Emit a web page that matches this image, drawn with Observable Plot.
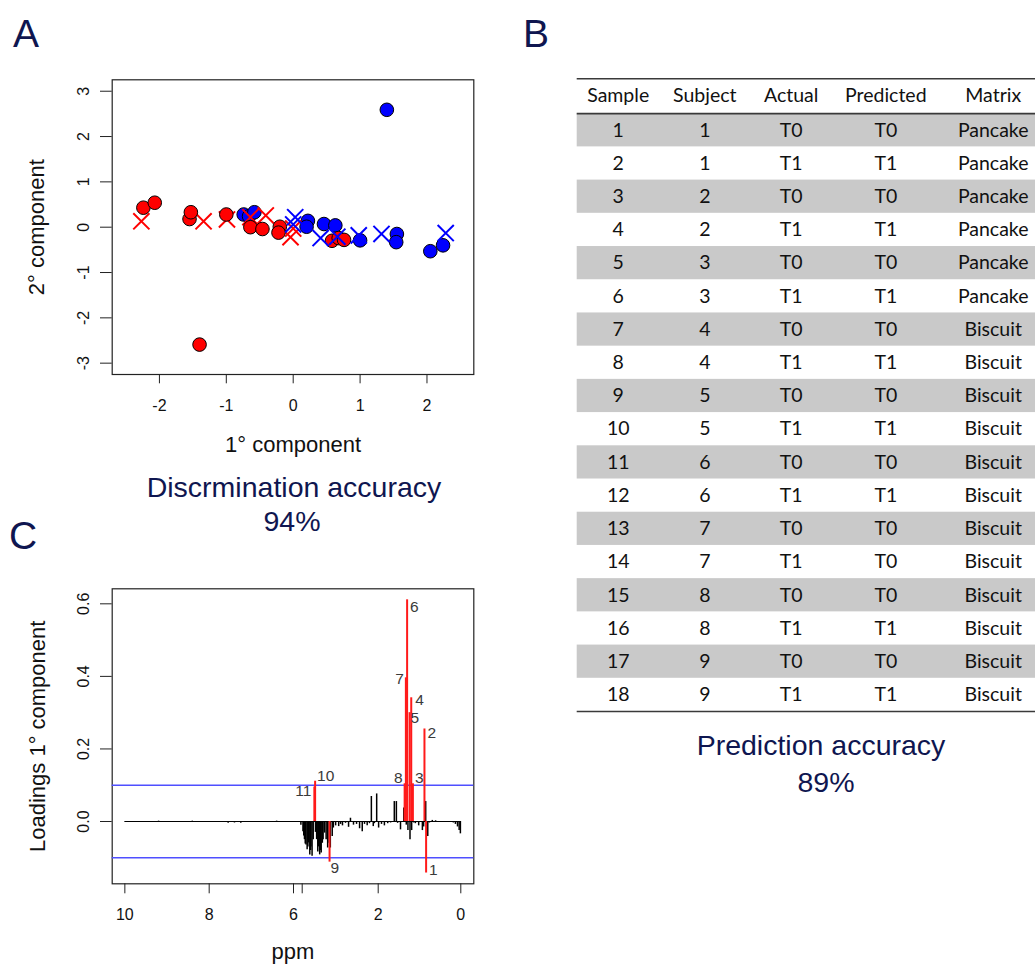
<!DOCTYPE html>
<html><head><meta charset="utf-8">
<script src="https://cdn.jsdelivr.net/npm/d3@7"></script>
<script src="https://cdn.jsdelivr.net/npm/@observablehq/plot@0.6"></script>
<style>
html,body{margin:0;padding:0;background:#fff;}
#root{position:relative;width:1035px;height:965px;overflow:hidden;background:#fff;}
#root > svg{position:absolute;}
</style></head><body><div id="root"></div>
<script>
// ---------- Panel A data (score plot) ----------
const redCircleX = [-2.24, -2.07, -1.55, -1.53, -1.00, -1.40, -0.64, -0.46, -0.20, -0.22, 0.58, 0.68, 0.76];
const redCircleY = [0.43, 0.54, 0.18, 0.33, 0.28, -2.59, 0.00, -0.04, 0.01, -0.12, -0.30, -0.24, -0.28];
const blueCircleX = [1.40, -0.74, -0.66, -0.58, 0.22, 0.20, 0.46, 0.63, 1.00, 1.55, 1.54, 2.05, 2.24];
const blueCircleY = [2.59, 0.28, 0.24, 0.33, 0.14, 0.01, 0.07, 0.04, -0.29, -0.15, -0.33, -0.53, -0.40];
const redCrossX = [-2.27, -1.34, -0.99, -0.64, -0.41, -0.04, 0.00];
const redCrossY = [0.13, 0.13, 0.17, 0.22, 0.26, -0.22, -0.03];
const blueCrossX = [0.03, 0.00, 0.41, 0.66, 0.98, 1.32, 2.28];
const blueCrossY = [0.22, 0.06, -0.24, -0.21, -0.18, -0.15, -0.13];
const ticksAX = [-2, -1, 0, 1, 2];
const ticksAY = [-3, -2, -1, 0, 1, 2, 3];

// ---------- Panel B data (table) ----------
const columns = ["Sample", "Subject", "Actual", "Predicted", "Matrix"];
const sample = [1,2,3,4,5,6,7,8,9,10,11,12,13,14,15,16,17,18];
const subject = [1,1,2,2,3,3,4,4,5,5,6,6,7,7,8,8,9,9];
const actual = ["T0","T1","T0","T1","T0","T1","T0","T1","T0","T1","T0","T1","T0","T1","T0","T1","T0","T1"];
const predicted = ["T0","T1","T0","T1","T0","T1","T0","T1","T0","T1","T0","T1","T0","T0","T0","T1","T0","T1"];
const matrix = ["Pancake","Pancake","Pancake","Pancake","Pancake","Pancake","Biscuit","Biscuit","Biscuit","Biscuit","Biscuit","Biscuit","Biscuit","Biscuit","Biscuit","Biscuit","Biscuit","Biscuit"];

// ---------- Panel C data (loadings) ----------
const specPPM = [10.0, 9.6, 9.2, 8.8, 8.4, 8.0, 7.7, 7.55, 7.4, 7.25, 7.1, 6.8, 6.4, 6.0, 5.0, 4.3,
  3.98, 3.96, 3.94, 3.92, 3.90, 3.87, 3.85, 3.83, 3.80, 3.78, 3.77, 3.74, 3.71, 3.65, 3.62, 3.59, 3.57, 3.56, 3.54, 3.52, 3.50, 3.47, 3.45, 3.41, 3.37, 3.33, 3.29, 3.26, 3.21,
  3.18, 3.12, 3.04, 2.99, 2.94, 2.86, 2.78, 2.73, 2.65, 2.57, 2.49, 2.42, 2.36, 2.29, 2.23, 2.18, 2.13, 2.10, 2.04,
  1.99, 1.92, 1.85, 1.77, 1.70, 1.61, 1.56, 1.53, 1.46, 1.38, 1.32, 1.28, 1.23, 1.19, 1.14, 1.10, 1.02, 0.93, 0.90, 0.85, 0.80, 0.76, 0.69, 0.61, 0.49, 0.37, 0.25, 0.18, 0.13, 0.08, 0.04, 0.01];
const specVal = [0, -0.001, 0.001, -0.001, 0.001, -0.001, -0.002, -0.005, -0.004, -0.005, -0.002, -0.001, 0.001, -0.002, -0.003, -0.01,
  -0.028, -0.04, -0.05, -0.062, -0.065, -0.078, -0.07, -0.059, -0.092, -0.08, -0.07, -0.096, -0.05, -0.03, -0.05, -0.084, -0.07, -0.06, -0.092, -0.08, -0.087, -0.06, -0.05, -0.032, -0.05, -0.073, -0.06, -0.073, -0.041,
  -0.018, -0.012, -0.014, -0.008, -0.012, -0.005, -0.016, 0.009, -0.01, -0.008, -0.02, -0.028, -0.008, -0.012, -0.006, 0.069, -0.014, -0.006, 0.076,
  -0.018, -0.008, -0.012, -0.006, -0.004, 0.055, 0.055, -0.005, -0.023, 0.037, -0.01, -0.025, -0.05, -0.025, -0.004, -0.006, -0.012, -0.025, -0.015, 0.055, -0.041, -0.004, 0.003, 0.002, 0, -0.001, -0.002, -0.004, -0.008, -0.015, -0.025, -0.034];
const selLabel = ["1","2","3","4","5","6","7","8","9","10","11"];
const selPPM = [0.84, 0.88, 1.16, 1.20, 1.24, 1.30, 1.33, 1.36, 3.28, 3.66, 3.68];
const selVal = [-0.142, 0.255, 0.104, 0.341, 0.30, 0.611, 0.396, 0.104, -0.112, 0.111, 0.095];
const thresholds = [0.1, -0.1];
const ticksCX = [10, 8, 6, 4, 2, 0];
const ticksCY = [0, 0.2, 0.4, 0.6];

// ---------- styling config ----------
const RED = "#ff0000", BLUE = "#0000ff", NAVY = "#0f1650";
const ARIAL = "'Liberation Sans', Arial, Helvetica, sans-serif";
// label offsets [dx, dy, anchor]
const labelOffset = {
  "1": [3, -3, "start"], "2": [3, 4, "start"], "3": [2, -6, "start"], "4": [4, 2, "start"],
  "5": [1, 5, "start"], "6": [3, 7, "start"], "7": [-2, 1, "end"], "8": [-2, -6, "end"],
  "9": [1, 6, "start"], "10": [2, -5, "start"], "11": [-3, 4, "end"]
};

const root = document.getElementById("root");
const pts = (xs, ys) => xs.map((x, i) => ({x, y: ys[i]}));
const baseStyle = {fontFamily: ARIAL, fontSize: "16px", color: "#111", background: "transparent", overflow: "visible"};

// ---------- Panel A ----------
const plotA = Plot.plot({
  width: 490, height: 400,
  marginLeft: 111.7, marginRight: 16.7, marginTop: 9.3, marginBottom: 96,
  style: baseStyle,
  x: {domain: [-2.706, 2.70]},
  y: {domain: [-3.25, 3.252]},
  marks: [
    Plot.frame({stroke: "#222", strokeWidth: 1.2}),
    Plot.axisX({ticks: ticksAX, tickSize: 9.3, tickPadding: 16, tickFormat: d => String(d), label: null, fontSize: 16, stroke: "#222"}),
    Plot.axisY({ticks: ticksAY, tickSize: 11.7, tickPadding: 11.7, tickRotate: -90, tickFormat: d => String(d), label: null, fontSize: 16, stroke: "#222"}),
    Plot.text(["1° component"], {frameAnchor: "bottom", lineAnchor: "middle", textAnchor: "middle", dy: 70.7, fontSize: 22, fill: "#111"}),
    Plot.text(["2° component"], {frameAnchor: "left", lineAnchor: "middle", textAnchor: "middle", dx: -75, rotate: -90, fontSize: 22, fill: "#111"}),
    Plot.dot(pts(blueCircleX, blueCircleY), {x: "x", y: "y", r: 6.8, fill: BLUE, stroke: "#000", strokeWidth: 1}),
    Plot.dot(pts(redCrossX, redCrossY), {x: "x", y: "y", r: 7.4, symbol: "times", stroke: RED, strokeWidth: 2}),
    Plot.dot(pts(redCircleX, redCircleY), {x: "x", y: "y", r: 6.8, fill: RED, stroke: "#000", strokeWidth: 1}),
    Plot.dot(pts(blueCrossX, blueCrossY), {x: "x", y: "y", r: 7.4, symbol: "times", stroke: BLUE, strokeWidth: 2})
  ]
});
plotA.style.left = "0px"; plotA.style.top = "70px";
root.appendChild(plotA);

// ---------- Panel C ----------
const spec = specPPM.map((p, i) => ({ppm: p, v: specVal[i]}));
const sel = selPPM.map((p, i) => ({ppm: p, v: selVal[i], label: selLabel[i]}));
const plotC = Plot.plot({
  width: 490, height: 400,
  marginLeft: 111.7, marginRight: 16.7, marginTop: 18.3, marginBottom: 86.7,
  style: baseStyle,
  x: {type: "linear", domain: [10.30, 6, 4, 2, 0, -0.315], range: [111.7, 293, 301.7, 377.7, 460.3, 473.3]},
  y: {domain: [-0.1717, 0.6414]},
  marks: [
    Plot.frame({stroke: "#222", strokeWidth: 1.2}),
    Plot.axisX({ticks: ticksCX, tickSize: 10, tickPadding: 15.3, tickFormat: d => d === 4 ? "" : String(d), label: null, fontSize: 16, stroke: "#222"}),
    Plot.axisY({ticks: ticksCY, tickSize: 11.7, tickPadding: 11.7, tickRotate: -90, tickFormat: d3.format(".1f"), label: null, fontSize: 16, stroke: "#222"}),
    Plot.text(["ppm"], {frameAnchor: "bottom", lineAnchor: "middle", textAnchor: "middle", dy: 68.5, fontSize: 22, fill: "#111"}),
    Plot.text(["Loadings 1° component"], {frameAnchor: "left", lineAnchor: "middle", textAnchor: "middle", dx: -74, rotate: -90, fontSize: 22, fill: "#111"}),
    Plot.ruleY([0], {x1: d3.max(specPPM), x2: d3.min(specPPM), stroke: "#000", strokeWidth: 1.2}),
    Plot.ruleX(spec, {x: "ppm", y1: 0, y2: "v", stroke: "#000", strokeWidth: 1.5}),
    Plot.ruleY(thresholds, {stroke: "#4f4fff", strokeWidth: 1.6}),
    Plot.ruleX(sel, {x: "ppm", y1: 0, y2: "v", stroke: "#ff1a1a", strokeWidth: 2}),
    ...sel.map(d => Plot.text([d], {x: "ppm", y: "v", text: "label", dx: labelOffset[d.label][0], dy: labelOffset[d.label][1],
      textAnchor: labelOffset[d.label][2], lineAnchor: "middle", fontSize: 15.5, fill: "#3a3a3a"}))
  ]
});
plotC.style.left = "0px"; plotC.style.top = "570px";
root.appendChild(plotC);

// ---------- Panel B (table) ----------
const rows = sample.map((s, i) => ({sample: s, vals: [String(s), String(subject[i]), actual[i], predicted[i], matrix[i]]}));
const cells = rows.flatMap(r => r.vals.map((t, j) => ({col: j, row: r.sample, text: t})));
const headerBand = [-1.05, 0];
const plotB = Plot.plot({
  width: 475, height: 645,
  marginLeft: 16.7, marginRight: 0, marginTop: 8.3, marginBottom: 4,
  style: {fontFamily: "Lato, 'Open Sans', sans-serif", fontSize: "19.5px", color: "#111", background: "transparent"},
  x: {type: "linear", domain: [0, 1, 2, 3, 4], range: [57.7, 144.3, 230.7, 325.3, 432.7], axis: null},
  y: {domain: [headerBand[0], sample.length], reverse: true, axis: null},
  marks: [
    Plot.rect(rows.filter(d => d.sample % 2 === 1), {y1: d => d.sample - 1, y2: d => d.sample, fill: "#c9c9c9"}),
    Plot.ruleY([headerBand[0], headerBand[1], sample.length], {stroke: "#3a3a3a", strokeWidth: 1.6}),
    Plot.text(columns, {x: (d, i) => i, y: (headerBand[0] + headerBand[1]) / 2, text: d => d, fill: "#111", fontSize: 19.5}),
    Plot.text(cells, {x: "col", y: d => d.row - 0.5, text: "text", fill: "#111", fontSize: 19.5})
  ]
});
plotB.style.left = "560px"; plotB.style.top = "70px";
root.appendChild(plotB);

// ---------- annotations ----------
const ov = d3.create("svg").attr("width", 1035).attr("height", 965)
  .style("left", "0px").style("top", "0px").style("pointer-events", "none")
  .attr("font-family", ARIAL);
const ann = [
  {t: "A", x: 13, y: 46.7, s: 39, a: "start"},
  {t: "B", x: 523, y: 46.7, s: 39, a: "start"},
  {t: "C", x: 9, y: 549, s: 39, a: "start"},
  {t: "Discrmination accuracy", x: 294, y: 496.5, s: 28.5, a: "middle"},
  {t: "94%", x: 292, y: 530.5, s: 28.5, a: "middle"},
  {t: "Prediction accuracy", x: 821, y: 755, s: 28.5, a: "middle"},
  {t: "89%", x: 826, y: 792, s: 28.5, a: "middle"}
];
ov.selectAll("text").data(ann).join("text")
  .attr("x", d => d.x).attr("y", d => d.y).attr("font-size", d => d.s)
  .attr("text-anchor", d => d.a).attr("fill", NAVY).text(d => d.t);
root.appendChild(ov.node());
</script></body></html>
